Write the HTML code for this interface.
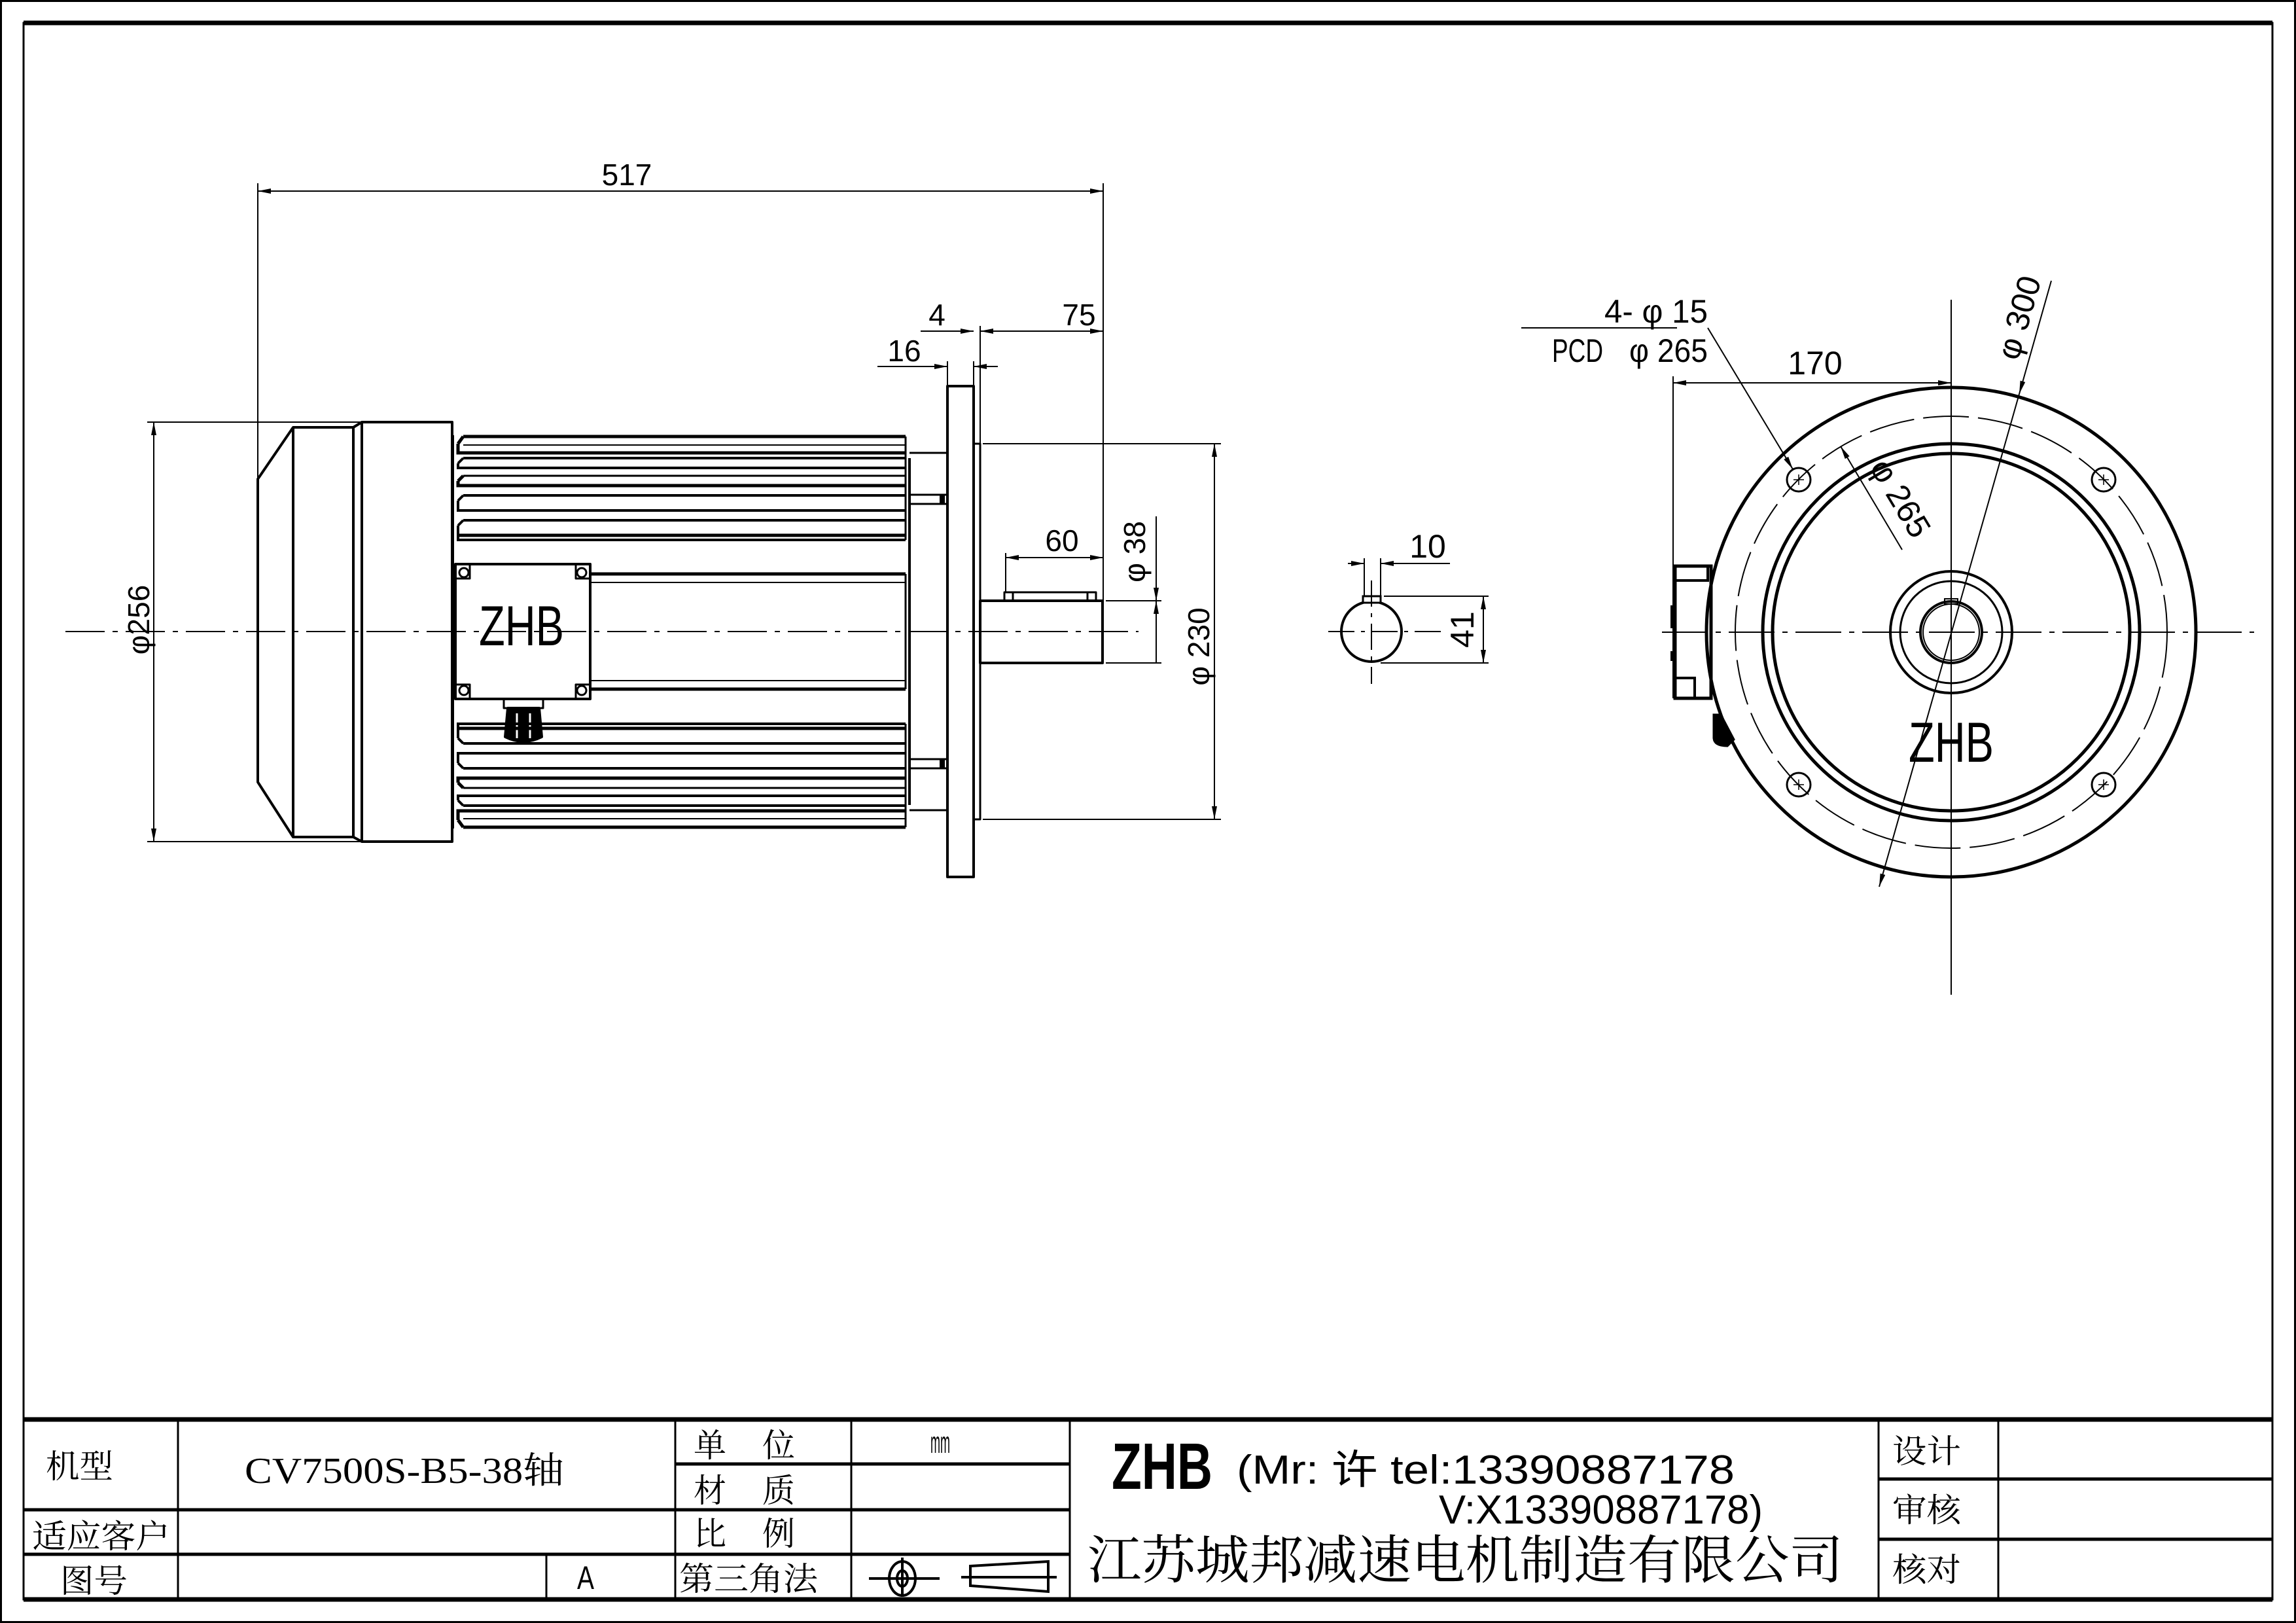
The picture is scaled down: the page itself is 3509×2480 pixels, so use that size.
<!DOCTYPE html>
<html><head><meta charset="utf-8">
<style>
html,body{margin:0;padding:0;background:#fff;}
svg{display:block;}
text{font-family:"Liberation Sans","Noto Sans CJK SC",sans-serif;fill:#000;}
.cn{font-family:"Liberation Serif","Noto Serif CJK SC","Noto Sans CJK SC",serif;}
</style></head>
<body>
<svg width="3509" height="2480" viewBox="0 0 3509 2480" xmlns="http://www.w3.org/2000/svg">
<defs>
<marker id="a" viewBox="0 0 20 8" refX="20" refY="4" markerWidth="20" markerHeight="8" markerUnits="userSpaceOnUse" orient="auto-start-reverse">
<path d="M0,0 L20,4 L0,8 z" fill="#000"/>
</marker>
</defs>
<rect x="0" y="0" width="3509" height="2480" fill="#fff"/>
<rect x="1.5" y="1.5" width="3506" height="2477" fill="none" stroke="#000" stroke-width="3"/>
<rect x="36" y="35" width="3437" height="2409" fill="none" stroke="#000" stroke-width="3"/>
<line x1="36" y1="35" x2="3473" y2="35" stroke="#000" stroke-width="7"/>

<g stroke="#000" fill="none">
<line x1="36" y1="2169" x2="3473" y2="2169" stroke-width="7"/>
<line x1="36" y1="2444" x2="3473" y2="2444" stroke-width="7"/>
<line x1="36" y1="2307" x2="1635" y2="2307" stroke-width="5"/>
<line x1="36" y1="2375" x2="1635" y2="2375" stroke-width="5"/>
<line x1="1032" y1="2237" x2="1635" y2="2237" stroke-width="5"/>
<line x1="2871" y1="2260" x2="3473" y2="2260" stroke-width="5"/>
<line x1="2871" y1="2352" x2="3473" y2="2352" stroke-width="5"/>
<line x1="272" y1="2169" x2="272" y2="2444" stroke-width="3"/>
<line x1="835" y1="2375" x2="835" y2="2444" stroke-width="3"/>
<line x1="1032" y1="2169" x2="1032" y2="2444" stroke-width="3"/>
<line x1="1301" y1="2169" x2="1301" y2="2444" stroke-width="3"/>
<line x1="1635" y1="2169" x2="1635" y2="2444" stroke-width="3"/>
<line x1="2871" y1="2169" x2="2871" y2="2444" stroke-width="3"/>
<line x1="3054" y1="2169" x2="3054" y2="2444" stroke-width="3"/>
</g>
<g class="cn" font-size="50">
<text class="cn" x="70" y="2258" textLength="103" lengthAdjust="spacingAndGlyphs">机型</text>
<text class="cn" x="374" y="2266" font-size="56" textLength="488" lengthAdjust="spacingAndGlyphs">CV7500S-B5-38轴</text>
<text class="cn" x="49" y="2365" textLength="211" lengthAdjust="spacingAndGlyphs">适应客户</text>
<text class="cn" x="92" y="2433" textLength="103" lengthAdjust="spacingAndGlyphs">图号</text>
<text class="cn" x="1060" y="2226">单</text>
<text class="cn" x="1165" y="2226">位</text>
<text class="cn" x="1060" y="2295">材</text>
<text class="cn" x="1165" y="2295">质</text>
<text class="cn" x="1060" y="2361">比</text>
<text class="cn" x="1165" y="2361">例</text>
<text class="cn" x="1038" y="2430" textLength="212" lengthAdjust="spacingAndGlyphs">第三角法</text>
<text class="cn" x="2892" y="2235" textLength="105" lengthAdjust="spacingAndGlyphs">设计</text>
<text class="cn" x="2892" y="2325" textLength="105" lengthAdjust="spacingAndGlyphs">审核</text>
<text class="cn" x="2892" y="2416" textLength="105" lengthAdjust="spacingAndGlyphs">核对</text>
<text class="cn" x="1662" y="2412" font-size="80" textLength="1155" lengthAdjust="spacingAndGlyphs">江苏城邦减速电机制造有限公司</text>
</g>
<text x="882" y="2428" font-size="50" textLength="26" lengthAdjust="spacingAndGlyphs">A</text>
<text x="1422" y="2220" font-size="46" textLength="30" lengthAdjust="spacingAndGlyphs">mm</text>
<text x="1699" y="2275" font-size="100" font-weight="bold" textLength="154" lengthAdjust="spacingAndGlyphs">ZHB</text>
<text x="1890" y="2267" font-size="62" textLength="761" lengthAdjust="spacingAndGlyphs">(Mr: 许 tel:13390887178</text>
<text x="2199" y="2328" font-size="62" textLength="495" lengthAdjust="spacingAndGlyphs">V:X13390887178)</text>
<g stroke="#000" fill="none" stroke-width="4">
<ellipse cx="1379" cy="2412" rx="20" ry="26"/>
<ellipse cx="1379" cy="2412" rx="8" ry="12"/>
<line x1="1328" y1="2412" x2="1436" y2="2412"/>
<line x1="1379" y1="2380" x2="1379" y2="2440"/>
<path d="M1483,2393 L1602,2386 L1602,2432 L1483,2423 Z"/>
<line x1="1469" y1="2410" x2="1615" y2="2410"/>
</g>

<g stroke="#000" fill="none" stroke-width="4" stroke-linejoin="round">
<path d="M394,732 L448,653 L540,653 L553,645 L691,645 L691,1286 L553,1286 L540,1279 L448,1279 L394,1195 Z"/>
<line x1="448" y1="653" x2="448" y2="1279"/>
<line x1="540" y1="653" x2="540" y2="1279"/>
<line x1="553" y1="645" x2="553" y2="1286"/>
<line x1="692" y1="665" x2="692" y2="1266"/>
<line x1="1390" y1="700" x2="1390" y2="1230"/>
<line x1="1390" y1="692" x2="1448" y2="692" stroke-width="3"/>
<line x1="1390" y1="1238" x2="1448" y2="1238" stroke-width="3"/>
<rect x="1390" y="756" width="58" height="14" stroke-width="3"/>
<rect x="1390" y="1160" width="58" height="14" stroke-width="3"/>
<line x1="1440" y1="756" x2="1440" y2="770" stroke-width="8"/>
<line x1="1440" y1="1160" x2="1440" y2="1174" stroke-width="8"/>
<rect x="1448" y="590" width="40" height="750"/>
<rect x="1488" y="678" width="10" height="574" stroke-width="3"/>
<rect x="1498" y="918" width="187" height="95"/>
<rect x="1535" y="905" width="140" height="13" stroke-width="3"/>
<line x1="1548" y1="905" x2="1548" y2="918" stroke-width="3"/>
<line x1="1662" y1="905" x2="1662" y2="918" stroke-width="3"/>
<line x1="902" y1="877" x2="1384" y2="877" stroke-width="5"/>
<line x1="902" y1="890" x2="1384" y2="890" stroke-width="2"/>
<line x1="902" y1="1053" x2="1384" y2="1053" stroke-width="5"/>
<line x1="902" y1="1040" x2="1384" y2="1040" stroke-width="2"/>
<line x1="1384" y1="877" x2="1384" y2="1053" stroke-width="3"/>
<rect x="696" y="862" width="206" height="206"/>
<path d="M718,862 V884 H696 M880,862 V884 H902 M718,1068 V1046 H696 M880,1068 V1046 H902" stroke-width="3"/>
<circle cx="709" cy="875" r="7" stroke-width="3"/>
<circle cx="889" cy="875" r="7" stroke-width="3"/>
<circle cx="709" cy="1055" r="7" stroke-width="3"/>
<circle cx="889" cy="1055" r="7" stroke-width="3"/>
<rect x="770" y="1068" width="60" height="14" stroke-width="3"/>
<path d="M776,1082 L824,1082 L828,1126 Q800,1140 772,1126 Z" fill="#000"/>
<path d="M790,1090 L790,1128 M810,1090 L810,1128" stroke="#fff" stroke-width="3"/>
</g>
<g stroke="#000" fill="none">
<g id="fins">
<path d="M708,667 H1384 M700,678 L708,667 M700,678 V692 H1384" stroke-width="5"/>
<path d="M708,680 H1384" stroke-width="2"/>
<path d="M708,700 H1384 M700,708 L708,700 M700,708 V715 H1384" stroke-width="4"/>
<path d="M708,727 H1384" stroke-width="3"/>
<path d="M700,735 L708,727 M700,735 V742 H1384" stroke-width="5"/>
<path d="M708,757 H1384 M700,765 L708,757 M700,765 V780 H1384" stroke-width="4"/>
<path d="M708,795 H1384 M700,803 L708,795 M700,803 V825 H1384" stroke-width="4"/>
<path d="M700,818 H1384" stroke-width="5"/>
<line x1="1384" y1="667" x2="1384" y2="825" stroke-width="3"/>
</g>
<use href="#fins" transform="translate(0,1931) scale(1,-1)"/>
</g>
<text x="797" y="986" font-size="86" text-anchor="middle" textLength="130" lengthAdjust="spacingAndGlyphs">ZHB</text>
<line x1="100" y1="965" x2="1740" y2="965" stroke="#000" stroke-width="2" stroke-dasharray="60,12,8,12"/>

<g stroke="#000" stroke-width="2" fill="none">
<line x1="394" y1="280" x2="394" y2="732"/>
<line x1="1686" y1="280" x2="1686" y2="918"/>
<line x1="394" y1="292" x2="1686" y2="292" marker-start="url(#a)" marker-end="url(#a)"/>
<line x1="1498" y1="498" x2="1498" y2="678"/>
<line x1="1488" y1="552" x2="1488" y2="590"/>
<line x1="1448" y1="552" x2="1448" y2="590"/>
<line x1="1498" y1="506" x2="1686" y2="506" marker-start="url(#a)" marker-end="url(#a)"/>
<line x1="1407" y1="506" x2="1488" y2="506" marker-end="url(#a)"/>
<line x1="1341" y1="560" x2="1448" y2="560" marker-end="url(#a)"/>
<line x1="1525" y1="560" x2="1488" y2="560" marker-end="url(#a)"/>
<line x1="1537" y1="845" x2="1537" y2="905"/>
<line x1="1537" y1="852" x2="1686" y2="852" marker-start="url(#a)" marker-end="url(#a)"/>
<line x1="1690" y1="918" x2="1775" y2="918"/>
<line x1="1690" y1="1013" x2="1775" y2="1013"/>
<line x1="1767" y1="789" x2="1767" y2="918" marker-end="url(#a)"/>
<line x1="1767" y1="1013" x2="1767" y2="918" marker-end="url(#a)"/>
<line x1="1502" y1="678" x2="1866" y2="678"/>
<line x1="1502" y1="1252" x2="1866" y2="1252"/>
<line x1="1856" y1="678" x2="1856" y2="1252" marker-start="url(#a)" marker-end="url(#a)"/>
<line x1="225" y1="645" x2="553" y2="645"/>
<line x1="225" y1="1286" x2="553" y2="1286"/>
<line x1="235" y1="645" x2="235" y2="1286" marker-start="url(#a)" marker-end="url(#a)"/>
</g>
<g font-size="46">
<text x="958" y="283" text-anchor="middle">517</text>
<text x="1649" y="497" text-anchor="middle">75</text>
<text x="1432" y="497" text-anchor="middle">4</text>
<text x="1382" y="552" text-anchor="middle">16</text>
<text x="1623" y="842" text-anchor="middle">60</text>
<text transform="translate(1750,843) rotate(-90)" text-anchor="middle">φ 38</text>
<text transform="translate(1848,988) rotate(-90)" text-anchor="middle">φ 230</text>
<text transform="translate(228,947) rotate(-90)" text-anchor="middle">φ256</text>
</g>

<g stroke="#000" fill="none">
<circle cx="2096" cy="965" r="46" stroke-width="4"/>
<rect x="2083" y="911" width="27" height="10" stroke-width="3" fill="#fff"/>
<line x1="2030" y1="965" x2="2210" y2="965" stroke-width="2" stroke-dasharray="40,10,6,10"/>
<line x1="2096" y1="887" x2="2096" y2="1045" stroke-width="2" stroke-dasharray="40,10,6,10"/>
<line x1="2085" y1="853" x2="2085" y2="911" stroke-width="2"/>
<line x1="2110" y1="853" x2="2110" y2="911" stroke-width="2"/>
<line x1="2060" y1="861" x2="2085" y2="861" stroke-width="2" marker-end="url(#a)"/>
<line x1="2216" y1="861" x2="2110" y2="861" stroke-width="2" marker-end="url(#a)"/>
<line x1="2115" y1="911" x2="2275" y2="911" stroke-width="2"/>
<line x1="2110" y1="1013" x2="2275" y2="1013" stroke-width="2"/>
<line x1="2267" y1="911" x2="2267" y2="1013" stroke-width="2" marker-start="url(#a)" marker-end="url(#a)"/>
</g>
<text x="2182" y="852" font-size="50" text-anchor="middle">10</text>
<text transform="translate(2252,962) rotate(-90)" font-size="50" text-anchor="middle">41</text>

<g stroke="#000" fill="none">
<circle cx="2982" cy="966" r="374" stroke-width="5"/>
<circle cx="2982" cy="966" r="330" stroke-width="2" stroke-dasharray="70,14"/>
<circle cx="2982" cy="966" r="288" stroke-width="5"/>
<circle cx="2982" cy="966" r="273" stroke-width="5"/>
<circle cx="2982" cy="966" r="93" stroke-width="4"/>
<circle cx="2982" cy="966" r="78" stroke-width="3"/>
<circle cx="2982" cy="966" r="47" stroke-width="4"/>
<circle cx="2982" cy="966" r="43" stroke-width="2"/>
<rect x="2972" y="915" width="20" height="8" stroke-width="2"/>
<g stroke-width="3">
<circle cx="2749" cy="733" r="18"/><circle cx="3215" cy="733" r="18"/>
<circle cx="2749" cy="1199" r="18"/><circle cx="3215" cy="1199" r="18"/>
</g>
<g stroke-width="1.5">
<path d="M2741,733h16M2749,725v16M3207,733h16M3215,725v16M2741,1199h16M2749,1191v16M3207,1199h16M3215,1191v16"/>
</g>
<line x1="2982" y1="458" x2="2982" y2="1520" stroke-width="2"/>
<line x1="2540" y1="966" x2="3445" y2="966" stroke-width="2" stroke-dasharray="70,12,8,12"/>
<rect x="2560" y="865" width="55" height="202" stroke-width="5"/>
<rect x="2560" y="865" width="50" height="22" stroke-width="4"/>
<rect x="2560" y="1036" width="30" height="31" stroke-width="4"/>
<line x1="2555" y1="925" x2="2555" y2="960" stroke-width="4"/>
<line x1="2555" y1="995" x2="2555" y2="1010" stroke-width="4"/>
<path d="M2619,1092 L2630,1092 L2650,1130 L2640,1140 Q2620,1140 2619,1128 Z" fill="#000" stroke-width="3"/>
<line x1="2557" y1="575" x2="2557" y2="1067" stroke-width="2"/>
<line x1="2557" y1="585" x2="2982" y2="585" stroke-width="2" marker-start="url(#a)" marker-end="url(#a)"/>
<line x1="2325" y1="501" x2="2563" y2="501" stroke-width="2"/>
<line x1="2610" y1="501" x2="2740" y2="717" stroke-width="2" marker-end="url(#a)"/>
<line x1="3135" y1="429" x2="3086" y2="602" stroke-width="2" marker-end="url(#a)"/>
<line x1="3086" y1="602" x2="2872" y2="1355" stroke-width="2" marker-end="url(#a)"/>
<line x1="2907" y1="840" x2="2813" y2="682" stroke-width="2" marker-end="url(#a)"/>
</g>
<g font-size="50">
<text x="2774" y="572" text-anchor="middle">170</text>
<text x="2452" y="493" textLength="158" lengthAdjust="spacingAndGlyphs">4- φ 15</text>
<text x="2372" y="553" textLength="78" lengthAdjust="spacingAndGlyphs">PCD</text>
<text x="2490" y="553" textLength="120" lengthAdjust="spacingAndGlyphs">φ 265</text>
<text transform="translate(3102,490) rotate(-74)" text-anchor="middle">φ 300</text>
<text transform="translate(2890,770) rotate(59)" text-anchor="middle">φ 265</text>
</g>
<text x="2982" y="1164" font-size="86" text-anchor="middle" textLength="130" lengthAdjust="spacingAndGlyphs">ZHB</text>
</svg>
</body></html>
